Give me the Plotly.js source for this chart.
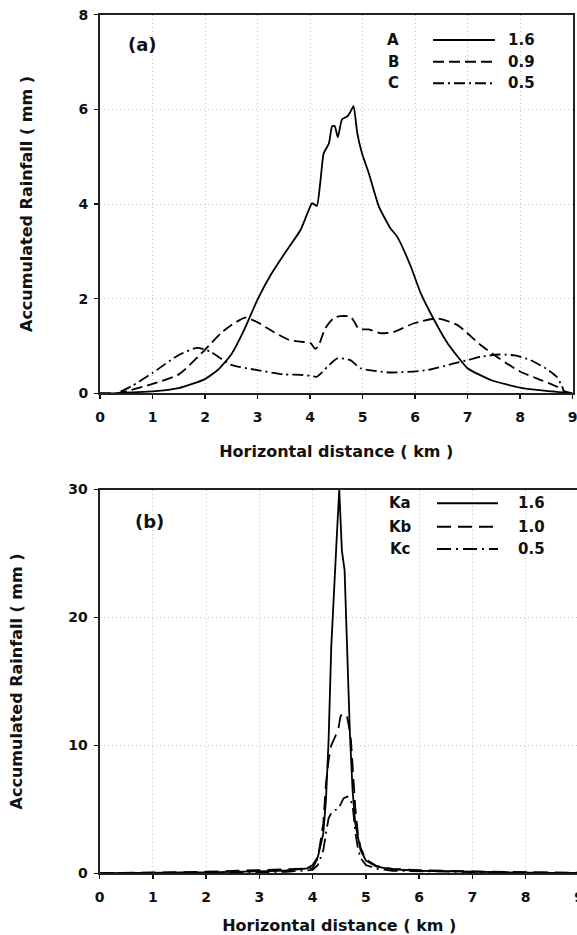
<!DOCTYPE html>
<html><head><meta charset="utf-8">
<script src="https://cdn.plot.ly/plotly-3.0.1.min.js"></script>
<style>html,body{margin:0;padding:0;overflow:hidden;background:#fff}#chart{width:582px;height:935px}</style>
</head><body><div id="chart"></div><script>
// ---- Panel (a) data ----
var aX_A = [0, 0.3, 0.6, 1.0, 1.5, 2.0, 2.25, 2.5, 2.75, 3.0, 3.25, 3.5, 3.82, 3.95, 4.04, 4.13, 4.2, 4.26, 4.36, 4.42, 4.47, 4.53, 4.61, 4.71, 4.77, 4.83, 4.9, 4.99, 5.12, 5.31, 5.53, 5.66, 5.92, 6.11, 6.36, 6.62, 7.0, 7.25, 7.5, 8.0, 8.5, 9.0];
var aY_A = [0, 0, 0.02, 0.04, 0.11, 0.3, 0.5, 0.82, 1.35, 1.98, 2.5, 2.93, 3.45, 3.8, 4.02, 3.96, 4.5, 5.07, 5.28, 5.64, 5.65, 5.41, 5.79, 5.85, 5.95, 6.07, 5.5, 5.07, 4.65, 3.95, 3.49, 3.31, 2.68, 2.11, 1.56, 1.06, 0.53, 0.38, 0.26, 0.12, 0.05, 0];
var aX_B = [0, 0.3, 0.6, 1.0, 1.5, 2.0, 2.3, 2.5, 2.77, 3.0, 3.3, 3.6, 3.82, 4.01, 4.1, 4.16, 4.29, 4.45, 4.58, 4.77, 4.85, 4.93, 5.12, 5.34, 5.6, 5.98, 6.43, 6.81, 7.25, 7.6, 8.0, 8.4, 8.7, 8.85, 9.0];
var aY_B = [0, 0, 0.07, 0.2, 0.4, 0.92, 1.27, 1.44, 1.6, 1.5, 1.3, 1.13, 1.09, 1.06, 0.94, 1.0, 1.37, 1.59, 1.63, 1.62, 1.5, 1.36, 1.35, 1.27, 1.30, 1.48, 1.58, 1.44, 1.02, 0.74, 0.46, 0.28, 0.14, 0.04, 0];
var aX_C = [0, 0.3, 0.6, 1.0, 1.5, 1.85, 2.1, 2.5, 3.0, 3.5, 3.82, 4.0, 4.13, 4.33, 4.52, 4.77, 4.96, 5.53, 6.23, 6.74, 7.0, 7.25, 7.6, 7.9, 8.2, 8.5, 8.7, 8.8, 8.85, 9.0];
var aY_C = [0, 0, 0.15, 0.43, 0.81, 0.96, 0.88, 0.6, 0.49, 0.4, 0.39, 0.37, 0.35, 0.56, 0.74, 0.7, 0.53, 0.44, 0.49, 0.63, 0.7, 0.77, 0.82, 0.8, 0.7, 0.52, 0.35, 0.15, 0.02, 0];
var aLabels = ['A', 'B', 'C'];
var aValues = ['1.6', '0.9', '0.5'];

// ---- Panel (b) data ----
var bX_Ka = [0, 1, 2, 3, 3.5, 3.9, 4.0, 4.1, 4.2, 4.25, 4.3, 4.35, 4.4, 4.45, 4.5, 4.55, 4.6, 4.65, 4.7, 4.75, 4.8, 4.9, 5.0, 5.2, 5.5, 6.0, 7.0, 8.0, 9.0];
var bY_Ka = [0.02, 0.03, 0.08, 0.15, 0.22, 0.39, 0.65, 1.3, 3.1, 5.7, 10.4, 17.7, 21.4, 26.0, 30, 25.2, 23.7, 16.9, 10.9, 6.5, 3.9, 1.8, 1.0, 0.52, 0.3, 0.2, 0.1, 0.05, 0.02];
var bX_Kb = [0, 1, 2, 3, 3.5, 4.0, 4.1, 4.2, 4.25, 4.3, 4.35, 4.42, 4.48, 4.52, 4.55, 4.6, 4.65, 4.68, 4.72, 4.76, 4.8, 4.85, 4.9, 5.0, 5.2, 5.5, 6.0, 7.0, 8.0, 9.0];
var bY_Kb = [0.02, 0.05, 0.12, 0.25, 0.3, 0.4, 1.2, 3.9, 7.0, 8.85, 10.0, 10.7, 11.2, 12.2, 12.5, 12.4, 12.2, 11.5, 10.4, 7.8, 5.2, 3.1, 2.0, 1.1, 0.57, 0.35, 0.25, 0.15, 0.08, 0.04];
var bX_Kc = [0, 1, 2, 3, 3.5, 4.0, 4.1, 4.2, 4.25, 4.3, 4.35, 4.42, 4.48, 4.52, 4.58, 4.65, 4.72, 4.76, 4.8, 4.85, 4.9, 5.0, 5.2, 5.5, 6.0, 7.0, 8.0, 9.0];
var bY_Kc = [0.01, 0.02, 0.05, 0.08, 0.12, 0.26, 0.65, 1.8, 3.1, 4.3, 4.7, 4.95, 5.0, 5.3, 5.86, 6.0, 5.7, 4.95, 3.26, 1.95, 1.2, 0.65, 0.35, 0.2, 0.15, 0.1, 0.05, 0.02];
var bLabels = ['Ka', 'Kb', 'Kc'];
var bValues = ['1.6', '1.0', '0.5'];

var xTitle = 'Horizontal distance ( km )';
var yTitle = 'Accumulated Rainfall ( mm )';

// ---- layout helpers ----
var W = 582, H = 935;
function px(v) { return v / W; }
function py(v) { return 1 - v / H; }
var FONT = 'DejaVu Sans';
var tickFont = {family: FONT, size: 14, weight: 'bold', color: '#111'};
var titleFont = {family: FONT, size: 16, weight: 'bold', color: '#111'};

var aDash = ['solid', '11px,5px', '11px,4px,2px,4px'];
var bDash = ['solid', '14px,7px', '14px,5px,2px,5px'];

var traces = [
  {x: aX_A, y: aY_A, xaxis: 'x', yaxis: 'y', name: aLabels[0], line: {color: '#000', width: 1.8, dash: aDash[0], shape: 'spline', smoothing: 0.5}},
  {x: aX_B, y: aY_B, xaxis: 'x', yaxis: 'y', name: aLabels[1], line: {color: '#000', width: 1.8, dash: aDash[1], shape: 'spline', smoothing: 0.6}},
  {x: aX_C, y: aY_C, xaxis: 'x', yaxis: 'y', name: aLabels[2], line: {color: '#000', width: 1.8, dash: aDash[2], shape: 'spline', smoothing: 0.6}},
  {x: bX_Ka, y: bY_Ka, xaxis: 'x2', yaxis: 'y2', name: bLabels[0], line: {color: '#000', width: 1.8, dash: bDash[0]}},
  {x: bX_Kb, y: bY_Kb, xaxis: 'x2', yaxis: 'y2', name: bLabels[1], line: {color: '#000', width: 1.8, dash: bDash[1]}},
  {x: bX_Kc, y: bY_Kc, xaxis: 'x2', yaxis: 'y2', name: bLabels[2], line: {color: '#000', width: 1.8, dash: bDash[2]}}
];
traces.forEach(function (t) { t.type = 'scatter'; t.mode = 'lines'; t.showlegend = false; t.hoverinfo = 'skip'; });

function axisBase() {
  return {
    showline: true, linecolor: '#222', linewidth: 2, mirror: true,
    ticks: 'outside', ticklen: 4, tickwidth: 1.5, tickcolor: '#111',
    showgrid: true, gridcolor: '#c4c4c4', griddash: '1px,3px', gridwidth: 1,
    zeroline: false, tickfont: tickFont, fixedrange: true, automargin: false,
    ticklabeloverflow: 'allow'
  };
}
var xa = Object.assign(axisBase(), {domain: [px(100), px(572.5)], anchor: 'y', range: [0, 9], tick0: 0, dtick: 1, ticklabelstandoff: 6,
  title: {text: xTitle, font: titleFont, standoff: 22}});
var ya = Object.assign(axisBase(), {domain: [py(393.3), py(14.7)], anchor: 'x', range: [0, 8], tick0: 0, dtick: 2, ticklabelstandoff: 3,
  title: {text: yTitle, font: titleFont, standoff: 42}});
var xb = Object.assign(axisBase(), {domain: [px(99.5), px(579)], anchor: 'y2', range: [0, 9], tick0: 0, dtick: 1, ticklabelstandoff: 6,
  title: {text: xTitle, font: titleFont, standoff: 40}});
var yb = Object.assign(axisBase(), {domain: [py(873.3), py(489.5)], anchor: 'x2', range: [0, 30], tick0: 0, dtick: 10, ticklabelstandoff: 3,
  title: {text: yTitle, font: titleFont, standoff: 42}});

var annotations = [];
var shapes = [];
function addLegend(labels, values, dashes, rows, labelX, lineX0, lineX1, valX, fsize) {
  for (var i = 0; i < labels.length; i++) {
    annotations.push({xref: 'paper', yref: 'paper', x: px(labelX), y: py(rows[i]), text: labels[i], showarrow: false,
      xanchor: 'center', yanchor: 'middle', font: {family: FONT, size: fsize, weight: 'bold', color: '#111'}});
    annotations.push({xref: 'paper', yref: 'paper', x: px(valX), y: py(rows[i]), text: values[i], showarrow: false,
      xanchor: 'left', yanchor: 'middle', font: {family: FONT, size: fsize, weight: 'bold', color: '#111'}});
    shapes.push({type: 'line', xref: 'paper', yref: 'paper', x0: px(lineX0), x1: px(lineX1), y0: py(rows[i]), y1: py(rows[i]),
      line: {color: '#000', width: 2, dash: dashes[i]}});
  }
}
addLegend(aLabels, aValues, aDash, [40, 61.7, 83.3], 393, 433, 495, 506, 15);
addLegend(bLabels, bValues, bDash, [503.3, 526.7, 549], 400, 437, 498, 516, 15);
annotations.push({xref: 'paper', yref: 'paper', x: px(142), y: py(44), text: '(a)', showarrow: false, xanchor: 'center', yanchor: 'middle',
  font: {family: FONT, size: 18, weight: 'bold', color: '#111'}});
annotations.push({xref: 'paper', yref: 'paper', x: px(150), y: py(521.7), text: '(b)', showarrow: false, xanchor: 'center', yanchor: 'middle',
  font: {family: FONT, size: 18, weight: 'bold', color: '#111'}});

var layout = {
  width: W, height: H,
  margin: {l: 0, r: 0, t: 0, b: 0},
  paper_bgcolor: '#fff', plot_bgcolor: '#fff',
  showlegend: false,
  xaxis: xa, yaxis: ya, xaxis2: xb, yaxis2: yb,
  annotations: annotations, shapes: shapes
};
Plotly.newPlot('chart', traces, layout, {staticPlot: true, displayModeBar: false});
</script></body></html>
